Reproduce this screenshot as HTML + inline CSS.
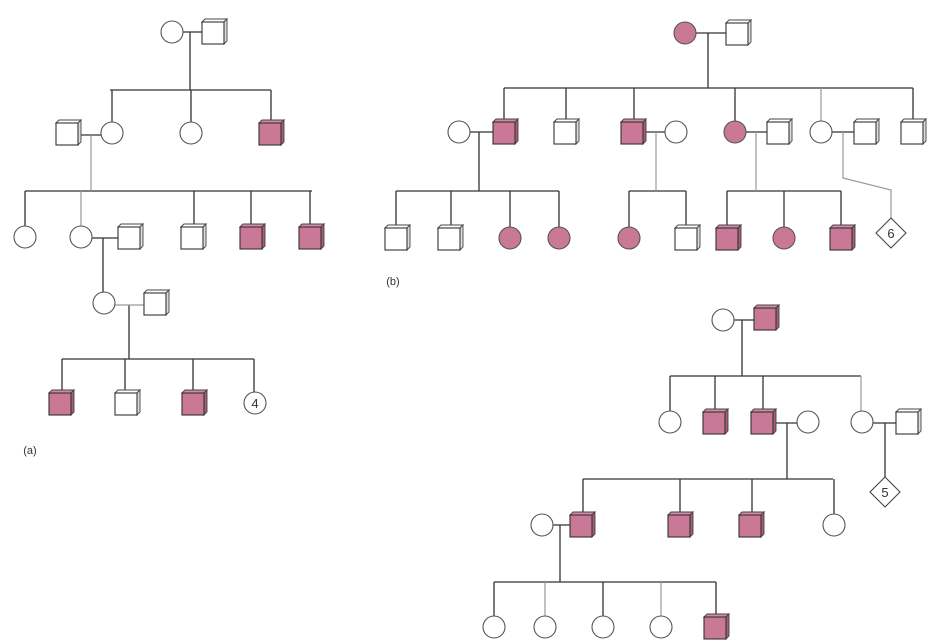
<!DOCTYPE html>
<html><head><meta charset="utf-8"><style>
html,body{margin:0;padding:0;background:#fff;}
svg{display:block;}
text{font-family:"Liberation Sans",sans-serif;fill:#333;}
</style></head><body>
<svg width="941" height="643" viewBox="0 0 941 643" xmlns="http://www.w3.org/2000/svg">
<defs>
<g id="sq">
<polygon points="-12,-10 -9,-13 13,-13 10,-10" fill="#fff" stroke="#444" stroke-width="0.9"/>
<polygon points="10,-10 13,-13 13,9 10,12" fill="#ddd" stroke="#444" stroke-width="0.9"/>
<rect x="-12" y="-10" width="22" height="22" fill="#fff" stroke="#333" stroke-width="1.1"/>
</g>
<g id="psq">
<polygon points="-12,-10 -9,-13 13,-13 10,-10" fill="#d48aa6" stroke="#444" stroke-width="0.9"/>
<polygon points="10,-10 13,-13 13,9 10,12" fill="#a85c78" stroke="#444" stroke-width="0.9"/>
<rect x="-12" y="-10" width="22" height="22" fill="#c97995" stroke="#333" stroke-width="1.1"/>
</g>
<circle id="c" r="11" fill="#fff" stroke="#555" stroke-width="1.1"/>
<circle id="pc" r="11" fill="#c97995" stroke="#555" stroke-width="1.1"/>
</defs>

<!-- lines -->
<g stroke="#333" stroke-width="1.3" fill="none">
<!-- (a) -->
<path d="M183 32H202 M190 32V90 M110 90H271 M112 90V122 M191 90V122 M271 90V120"/>
<path d="M80 135H101"/>
<path d="M25 191H312 M25 191V226 M194 191V224 M251 191V224 M310 191V224"/>
<path d="M92 238H118 M103 238V292"/>
<path d="M129 305V359 M62 359H254 M62 359V390 M125 359V390 M193 359V390 M254 359V392"/>
<!-- (b) -->
<path d="M696 33H726 M708 33V88 M504 88H913 M504 88V119 M566 88V119 M634 88V119 M735 88V121 M913 88V119"/>
<path d="M470 132H493 M479 132V191 M645 132H665 M746 132H767 M832 132H854"/>
<path d="M396 191H559 M396 191V225 M451 191V225 M510 191V227 M559 191V227"/>
<path d="M629 191H686 M629 191V227 M686 191V225"/>
<path d="M727 191H841 M727 191V225 M784 191V227 M841 191V225"/>
<!-- (c) -->
<path d="M734 320H754 M742 320V376 M670 376H861 M670 376V411 M715 376V409 M763 376V409"/>
<path d="M775 423H797 M787 423V479 M873 423H896 M885 423V477"/>
<path d="M583 479H833 M583 479V513 M680 479V513 M752 479V513 M834 479V514"/>
<path d="M553 525H570 M560 525V582 M494 582H716 M494 582V616 M603 582V616 M716 582V614"/>
</g>
<g stroke="#999" stroke-width="1.2" fill="none">
<path d="M91 135V191 M81 191V226 M115 305H144 M821 88V121 M656 132V191 M756 132V191 M843 132V178 L891 190 V218 M545 582V616 M661 582V616 M861 376V411"/>
</g>

<!-- (a) nodes -->
<use href="#c" x="172" y="32"/><use href="#sq" x="214" y="32"/>
<use href="#sq" x="68" y="133"/><use href="#c" x="112" y="133"/><use href="#c" x="191" y="133"/><use href="#psq" x="271" y="133"/>
<use href="#c" x="25" y="237"/><use href="#c" x="81" y="237"/><use href="#sq" x="130" y="237"/><use href="#sq" x="193" y="237"/><use href="#psq" x="252" y="237"/><use href="#psq" x="311" y="237"/>
<use href="#c" x="104" y="303"/><use href="#sq" x="156" y="303"/>
<use href="#psq" x="61" y="403"/><use href="#sq" x="127" y="403"/><use href="#psq" x="194" y="403"/><use href="#c" x="255" y="403"/>
<text x="255" y="408" font-size="13" text-anchor="middle">4</text>
<text x="30" y="454" font-size="11" text-anchor="middle">(a)</text>

<!-- (b) nodes -->
<use href="#pc" x="685" y="33"/><use href="#sq" x="738" y="33"/>
<use href="#c" x="459" y="132"/><use href="#psq" x="505" y="132"/><use href="#sq" x="566" y="132"/><use href="#psq" x="633" y="132"/><use href="#c" x="676" y="132"/><use href="#pc" x="735" y="132"/><use href="#sq" x="779" y="132"/><use href="#c" x="821" y="132"/><use href="#sq" x="866" y="132"/><use href="#sq" x="913" y="132"/>
<use href="#sq" x="397" y="238"/><use href="#sq" x="450" y="238"/><use href="#pc" x="510" y="238"/><use href="#pc" x="559" y="238"/>
<use href="#pc" x="629" y="238"/><use href="#sq" x="687" y="238"/>
<use href="#psq" x="728" y="238"/><use href="#pc" x="784" y="238"/><use href="#psq" x="842" y="238"/>
<polygon points="891,218 906,233 891,248 876,233" fill="#fff" stroke="#444" stroke-width="1.1"/>
<text x="891" y="238" font-size="13" text-anchor="middle">6</text>
<text x="393" y="285" font-size="11" text-anchor="middle">(b)</text>

<!-- (c) nodes -->
<use href="#c" x="723" y="320"/><use href="#psq" x="766" y="318"/>
<use href="#c" x="670" y="422"/><use href="#psq" x="715" y="422"/><use href="#psq" x="763" y="422"/><use href="#c" x="808" y="422"/><use href="#c" x="862" y="422"/><use href="#sq" x="908" y="422"/>
<polygon points="885,477 900,492 885,507 870,492" fill="#fff" stroke="#444" stroke-width="1.1"/>
<text x="885" y="497" font-size="13" text-anchor="middle">5</text>
<use href="#c" x="542" y="525"/><use href="#psq" x="582" y="525"/><use href="#psq" x="680" y="525"/><use href="#psq" x="751" y="525"/><use href="#c" x="834" y="525"/>
<use href="#c" x="494" y="627"/><use href="#c" x="545" y="627"/><use href="#c" x="603" y="627"/><use href="#c" x="661" y="627"/><use href="#psq" x="716" y="627"/>
</svg>
</body></html>
